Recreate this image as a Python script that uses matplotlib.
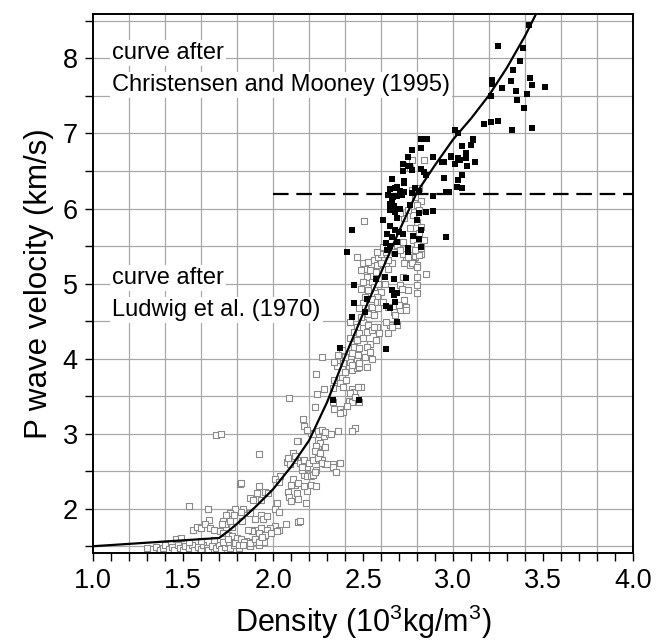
import numpy as np
import matplotlib
matplotlib.use("Agg")
import matplotlib.pyplot as plt
from matplotlib.ticker import MultipleLocator

plt.rcParams['font.family'] = ['Liberation Sans', 'DejaVu Sans']
plt.rcParams['mathtext.fontset'] = 'custom'
plt.rcParams['mathtext.rm'] = 'Liberation Sans'
plt.rcParams['mathtext.default'] = 'regular'

# curve: Ludwig et al. (1970) below, Christensen and Mooney (1995) above
curve_density = [1.0, 1.7, 1.75, 1.8, 1.9, 2.0, 2.1, 2.2, 2.3, 2.4, 2.5, 2.6, 2.7,
                 2.8, 2.9, 3.0, 3.1, 3.2, 3.3, 3.4, 3.5]
curve_velocity = [1.50, 1.61, 1.70, 1.80, 2.02, 2.26, 2.56, 2.91, 3.42, 4.03, 4.60,
                  5.15, 5.70, 6.22, 6.58, 6.92, 7.20, 7.51, 7.88, 8.30, 8.78]

# horizontal dashed line
dash_density = [2.0, 4.0]
dash_velocity = 6.2

# filled squares (density, velocity)
filled_squares = [
    (3.25, 8.17), (3.39, 8.14), (3.37, 7.96), (3.335, 7.85), (3.215, 7.71), (3.215, 7.66),
    (3.32, 7.70), (3.43, 7.74), (3.44, 7.64), (3.51, 7.62), (3.27, 7.60), (3.35, 7.57),
    (3.41, 7.52), (3.21, 7.50), (3.355, 7.44), (3.395, 7.34), (3.17, 7.12), (3.21, 7.15),
    (3.25, 7.17), (3.33, 7.05), (3.44, 7.07), (3.01, 7.04), (3.03, 7.01), (3.11, 6.92),
    (3.05, 6.83), (3.10, 6.84), (3.07, 6.73), (2.99, 6.69), (3.03, 6.67), (3.07, 6.67),
    (3.42, 8.45),
    (2.82, 6.92), (2.857, 6.93), (2.77, 6.78), (2.82, 6.81), (2.75, 6.68), (2.89, 6.68),
    (2.72, 6.59), (2.76, 6.56), (2.72, 6.50), (2.95, 6.62), (3.01, 6.59), (3.04, 6.65),
    (3.08, 6.57), (3.12, 6.62), (3.05, 6.45), (3.03, 6.38), (2.95, 6.41), (3.02, 6.29),
    (3.05, 6.27), (2.66, 6.39), (2.69, 6.29), (2.73, 6.34), (2.79, 6.27), (2.75, 6.57),
    (2.77, 6.51), (2.82, 6.52), (2.84, 6.48), (2.85, 6.44), (2.94, 6.62), (2.96, 6.22),
    (2.98, 6.22), (2.89, 6.17), (3.07, 6.74), (3.10, 6.85), (3.11, 6.91), (2.99, 6.70),
    (2.73, 6.36), (2.65, 6.26), (2.68, 6.27), (2.705, 6.24), (2.73, 6.22), (2.77, 6.21),
    (2.81, 6.24), (2.64, 6.18), (2.665, 6.16), (2.69, 6.17), (2.715, 6.18), (2.66, 6.11),
    (2.65, 6.06), (2.67, 6.03), (2.65, 5.98), (2.68, 5.96), (2.705, 6.00), (2.85, 5.96),
    (2.89, 5.97), (2.61, 5.85), (2.69, 5.87), (2.44, 5.72), (2.65, 5.77), (2.68, 5.72),
    (2.70, 5.69), (2.635, 5.66), (2.72, 5.66), (2.66, 5.62), (2.82, 5.71), (2.81, 5.59),
    (2.78, 5.63), (2.96, 5.62), (2.63, 5.54), (2.69, 5.56), (2.65, 5.50), (2.635, 5.45),
    (2.75, 5.47), (2.82, 5.49), (2.68, 5.40), (2.76, 6.05), (2.81, 5.94), (2.80, 5.85),
    (2.41, 5.42), (2.75, 5.42), (2.45, 4.98), (2.45, 4.74), (2.44, 4.56), (2.52, 4.79),
    (2.51, 4.62), (2.57, 5.06), (2.62, 5.09), (2.67, 5.06), (2.74, 5.08), (2.66, 4.91),
    (2.69, 4.87), (2.67, 4.85), (2.68, 4.76), (2.65, 4.67), (2.63, 4.70), (2.69, 4.49),
    (2.37, 4.14), (2.63, 4.13), (2.335, 3.45), (2.48, 3.45),
]

# open squares (density, velocity)
open_squares = [
    # low density, near water velocity
    (1.30, 1.47), (1.33, 1.46), (1.35, 1.49), (1.37, 1.45), (1.39, 1.48), (1.40, 1.52),
    (1.42, 1.46), (1.44, 1.49), (1.45, 1.45), (1.47, 1.51), (1.48, 1.47), (1.50, 1.45),
    (1.51, 1.50), (1.53, 1.47), (1.55, 1.52), (1.56, 1.45), (1.58, 1.49), (1.60, 1.46),
    (1.61, 1.51), (1.63, 1.48), (1.64, 1.45), (1.66, 1.50), (1.68, 1.47), (1.70, 1.52),
    (1.71, 1.46), (1.73, 1.49), (1.75, 1.54), (1.76, 1.47), (1.78, 1.51), (1.80, 1.55),
    (1.81, 1.48), (1.83, 1.53), (1.85, 1.57), (1.87, 1.50), (1.89, 1.55), (1.90, 1.60),
    (1.92, 1.52), (1.93, 1.58), (1.95, 1.55), (1.46, 1.59), (1.49, 1.61), (1.53, 1.55),
    (1.60, 1.57), (1.67, 1.58), (1.72, 1.56),
    # 1.5 - 2.2 g/cc
    (2.076, 2.62), (2.094, 2.60), (2.16, 2.53), (2.17, 2.45), (2.19, 2.43), (2.04, 2.44),
    (2.01, 2.40), (2.035, 2.36), (1.817, 2.33), (1.92, 2.30), (1.91, 2.21), (1.955, 2.22),
    (1.97, 2.21), (2.08, 2.22), (2.13, 2.21), (2.09, 2.16), (2.12, 2.32), (2.10, 2.10),
    (2.14, 2.13), (1.87, 2.14), (1.89, 2.12), (1.93, 2.11), (2.18, 2.08), (2.19, 2.23),
    (2.02, 2.07), (2.01, 1.99), (2.03, 1.96), (1.533, 2.04), (1.64, 1.99), (1.835, 2.00),
    (1.79, 1.99), (1.82, 1.96), (1.76, 1.94), (1.78, 1.91), (1.74, 1.92), (1.87, 1.94),
    (1.93, 1.91), (1.946, 1.86), (1.965, 1.90), (1.90, 1.86), (1.646, 1.85), (1.72, 1.83),
    (1.73, 1.79), (1.715, 1.80), (1.76, 1.83), (1.77, 1.76), (1.826, 1.83), (2.07, 1.80),
    (2.14, 1.82), (2.01, 1.77), (2.03, 1.72), (1.98, 1.74), (1.965, 1.71), (1.93, 1.74),
    (1.90, 1.72), (1.88, 1.70), (1.86, 1.72), (1.92, 1.68), (1.955, 1.65), (1.99, 1.67),
    (2.02, 1.70), (1.557, 1.72), (1.576, 1.76), (1.60, 1.74), (1.62, 1.79), (1.65, 1.74),
    (1.67, 1.72), (1.706, 1.70), (1.72, 1.68), (1.75, 1.65), (1.77, 1.63), (1.80, 1.61),
    (1.82, 1.59), (1.84, 1.56), (1.87, 1.54), (1.75, 1.59), (1.79, 1.54), (1.81, 1.52),
    (1.835, 1.52), (1.90, 1.59), (1.92, 1.56), (1.94, 1.62), (1.92, 2.73), (1.68, 2.98),
    (1.71, 3.00), (1.82, 2.34), (2.15, 1.83),
    # 2.1 - 2.5 g/cc
    (2.14, 2.90), (2.11, 2.74), (2.13, 2.65), (2.15, 2.61), (2.11, 2.39), (2.10, 2.32),
    (2.14, 2.34), (2.17, 2.30), (2.16, 2.52), (2.19, 2.56), (2.21, 2.43), (2.22, 2.45),
    (2.24, 2.52), (2.23, 2.65), (2.27, 2.65), (2.26, 2.74), (2.25, 2.83), (2.26, 2.90),
    (2.28, 2.97), (2.31, 2.99), (2.23, 2.49), (2.29, 2.59), (2.335, 2.59), (2.37, 2.61),
    (2.33, 2.55), (2.21, 2.32), (2.24, 2.30), (2.35, 2.49), (2.085, 2.68), (2.12, 2.70),
    (2.17, 2.65), (2.20, 2.61), (2.22, 2.65), (2.25, 2.68), (2.27, 2.61), (2.30, 2.59),
    (2.16, 2.56), (2.21, 3.01), (2.22, 2.99), (2.25, 3.03), (2.27, 3.05), (2.29, 3.02),
    (2.32, 3.00), (2.36, 3.03), (2.455, 3.07), (2.44, 3.03), (2.13, 2.90), (2.25, 2.92),
    (2.26, 2.88), (2.24, 2.83), (2.23, 2.77), (2.26, 2.74), (2.29, 2.82), (2.165, 3.19),
    (2.17, 3.10), (2.19, 3.05), (2.23, 3.36), (2.33, 3.42), (2.34, 3.33), (2.37, 3.33),
    (2.39, 3.29), (2.37, 3.27), (2.42, 3.44), (2.44, 3.42), (2.41, 3.37), (2.28, 3.59),
    (2.245, 3.53), (2.09, 3.48), (2.44, 3.59), (2.45, 3.55), (2.49, 3.62), (2.24, 3.79),
    (2.357, 3.90), (2.38, 3.74), (2.405, 3.72), (2.37, 3.67), (2.39, 3.62), (2.34, 3.72),
    (2.335, 3.61), (2.39, 3.98), (2.43, 3.96), (2.465, 3.98), (2.48, 3.93), (2.45, 3.91),
    (2.42, 3.87), (2.40, 3.82), (2.44, 3.85), (2.465, 3.87), (2.48, 3.89), (2.47, 3.62),
    (2.48, 3.42), (2.43, 3.54), (2.455, 3.49),
    # 2.3 - 2.8 g/cc, 4 - 5 km/s
    (2.43, 4.49), (2.465, 4.42), (2.50, 4.49), (2.53, 4.45), (2.45, 4.36), (2.48, 4.34),
    (2.52, 4.36), (2.55, 4.38), (2.43, 4.27), (2.465, 4.25), (2.50, 4.27), (2.54, 4.20),
    (2.45, 4.16), (2.48, 4.14), (2.52, 4.16), (2.38, 4.11), (2.36, 4.05), (2.40, 4.02),
    (2.44, 4.07), (2.47, 4.05), (2.51, 4.02), (2.55, 4.00), (2.34, 3.96), (2.39, 3.94),
    (2.44, 3.91), (2.48, 3.94), (2.52, 3.89), (2.27, 4.02), (2.65, 4.45), (2.64, 4.34),
    (2.58, 4.42), (2.59, 4.34), (2.57, 4.25), (2.54, 4.09), (2.52, 5.09), (2.55, 5.02),
    (2.50, 5.02), (2.49, 4.93), (2.53, 4.91), (2.56, 4.96), (2.585, 5.00), (2.60, 4.89),
    (2.58, 4.82), (2.55, 4.80), (2.51, 4.82), (2.50, 4.74), (2.48, 4.67), (2.51, 4.67),
    (2.55, 4.69), (2.58, 4.76), (2.60, 4.76), (2.53, 4.60), (2.49, 4.56), (2.56, 4.58),
    (2.585, 4.67), (2.705, 4.98), (2.75, 4.91), (2.80, 4.98), (2.73, 4.78), (2.67, 4.62),
    (2.705, 4.65), (2.74, 4.69), (2.61, 4.76), (2.64, 4.69), (2.68, 4.58), (2.70, 4.71),
    (2.74, 4.65), (2.69, 4.45), (2.63, 4.49), (2.66, 4.42), (2.56, 4.42),
    # 5 - 6.7 km/s
    (2.465, 5.35), (2.50, 5.27), (2.53, 5.29), (2.56, 5.31), (2.585, 5.36), (2.60, 5.40),
    (2.63, 5.42), (2.58, 5.25), (2.60, 5.27), (2.51, 5.20), (2.54, 5.18), (2.49, 5.18),
    (2.57, 5.16), (2.76, 5.38), (2.79, 5.36), (2.82, 5.40), (2.78, 5.29), (2.76, 5.25),
    (2.80, 5.25), (2.74, 5.34), (2.85, 5.13), (2.66, 5.27), (2.64, 5.20), (2.61, 5.49),
    (2.64, 5.47), (2.67, 5.42), (2.72, 5.40), (2.75, 5.36), (2.81, 5.38), (2.82, 5.51),
    (2.77, 5.27), (2.73, 5.27), (2.80, 5.22), (2.64, 5.31), (2.72, 5.09), (2.80, 5.09),
    (2.80, 4.87), (2.715, 4.93), (2.62, 5.00), (2.84, 5.58), (2.58, 5.42), (2.69, 5.51),
    (2.705, 5.45), (2.72, 5.56), (2.78, 5.58), (2.80, 5.51), (2.82, 5.47), (2.79, 5.45),
    (2.72, 6.58), (2.77, 6.65), (2.76, 6.54), (2.84, 6.64), (2.77, 6.25), (2.81, 6.27),
    (2.79, 6.16), (2.82, 6.10), (2.80, 6.05), (2.81, 5.98), (2.78, 5.91), (2.80, 5.82),
    (2.82, 5.76), (2.79, 5.74), (2.81, 5.67), (2.76, 5.74), (2.73, 5.88), (2.705, 5.94),
    (2.75, 5.98), (2.505, 5.84),
]

open_d, open_v = np.array(open_squares).T
fill_d, fill_v = np.array(filled_squares).T

fig = plt.figure(figsize=(6.56, 6.43), dpi=100)
ax = fig.add_axes([0.142, 0.140, 0.823, 0.838])

# grid: every 0.2 in density, every 0.5 in velocity
for gx in np.arange(1.2, 3.99, 0.2):
    ax.axvline(gx, color='#a8a8a8', lw=0.9, zorder=0)
for gy in np.arange(1.5, 8.51, 0.5):
    ax.axhline(gy, color='#a8a8a8', lw=0.9, zorder=0)

ax.scatter(open_d, open_v, marker='s', s=15, facecolors='white',
           edgecolors='#8a8a8a', linewidths=0.8, zorder=2)
ax.scatter(fill_d, fill_v, marker='s', s=15, color='black', linewidths=0, zorder=3)
ax.plot(curve_density, curve_velocity, color='black', lw=1.6, zorder=4)
ax.plot(dash_density, [dash_velocity, dash_velocity], color='black', lw=1.6,
        dashes=(7, 3.5), zorder=4)

box = dict(facecolor='white', edgecolor='none', pad=1.5)
ax.text(1.105, 8.07, 'curve after', fontsize=17, va='center', bbox=box, zorder=5)
ax.text(1.105, 7.65, 'Christensen and Mooney (1995)', fontsize=17, va='center',
        bbox=box, zorder=5)
ax.text(1.105, 5.07, 'curve after', fontsize=17, va='center', bbox=box, zorder=5)
ax.text(1.105, 4.65, 'Ludwig et al. (1970)', fontsize=17, va='center', bbox=box, zorder=5)

ax.set_xlim(1.0, 4.0)
ax.set_ylim(1.41, 8.59)
ax.xaxis.set_major_locator(MultipleLocator(0.5))
ax.xaxis.set_minor_locator(MultipleLocator(0.1))
ax.yaxis.set_major_locator(MultipleLocator(1))
ax.yaxis.set_minor_locator(MultipleLocator(0.5))
ax.xaxis.set_major_formatter(lambda x, pos: f"{x:.1f}")
ax.set_yticks([2, 3, 4, 5, 6, 7, 8])
ax.tick_params(which='both', direction='out', length=6, width=1.0, labelsize=19.5)
ax.tick_params(axis='x', pad=5)
ax.tick_params(axis='y', pad=5)
for sp in ax.spines.values():
    sp.set_linewidth(1.4)

ax.set_xlabel('Density (10$^{3}$kg/m$^{3}$)', fontsize=22, labelpad=6)
ax.set_ylabel('P wave velocity (km/s)', fontsize=22.5, labelpad=6)

fig.savefig('out.png', dpi=100)
